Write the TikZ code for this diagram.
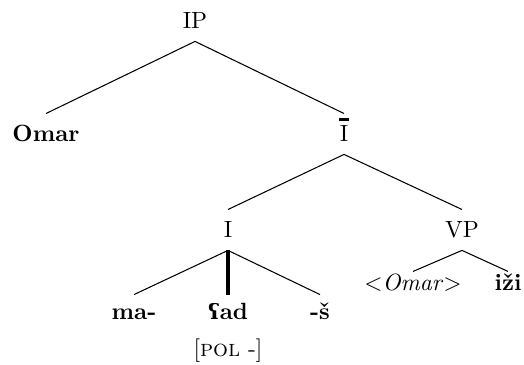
\documentclass[tikz,border=0pt]{standalone}
\usepackage{fontspec}
\newfontfamily\ipafont{DejaVu Serif}[Scale=0.9]
\tikzset{
  lbl/.style={anchor=base, text height=7pt, text depth=1pt, inner xsep=1pt, inner ysep=4.5pt},
  midlbl/.style={lbl, inner ysep=3.2pt},
  lowlbl/.style={lbl, inner ysep=0.7pt},
  edge/.style={line width=0.45pt},
  headedge/.style={line width=1.4pt}
}
\newcommand{\Ibar}{\ooalign{I\cr\hidewidth\raisebox{8.6pt}{\rule{4.3pt}{1.3pt}}\hidewidth\cr}}
\begin{document}
\begin{tikzpicture}[x=0.4255pt,y=-0.4255pt]
\useasboundingbox (0,0) rectangle (524,364);
\node[lbl] (IP) at (195,28) {IP};
\node[lbl] (Omar) at (46,141) {\textbf{Omar}};
\node[lbl] (Ib) at (344,141) {\Ibar};
\node[lbl] (I) at (228,237) {I};
\node[lbl] (VP) at (462,237) {VP};
\node[midlbl] (ma) at (134,319) {\textbf{ma-}};
\node[midlbl] (ad) at (228,319) {\textbf{{\ipafont ʕ}ad}};
\node[midlbl] (s) at (320,319) {\textbf{-š}};
\node[anchor=base, inner sep=0pt] (pol) at (228,356) {[\textsc{pol} -]};
\node[lowlbl] (tr) at (413,290) {$<$\textit{Omar}$>$};
\node[lowlbl] (izi) at (508,290) {\textbf{iži}};
\draw[edge] (IP.south) -- (Omar.north);
\draw[edge] (IP.south) -- (Ib.north);
\draw[edge] (Ib.south) -- (I.north);
\draw[edge] (Ib.south) -- (VP.north);
\draw[edge] (I.south) -- (ma.north);
\draw[headedge] (I.south) -- (ad.north);
\draw[edge] (I.south) -- (s.north);
\draw[edge] (VP.south) -- (tr.north);
\draw[edge] (VP.south) -- (izi.north);
\end{tikzpicture}
\end{document}
